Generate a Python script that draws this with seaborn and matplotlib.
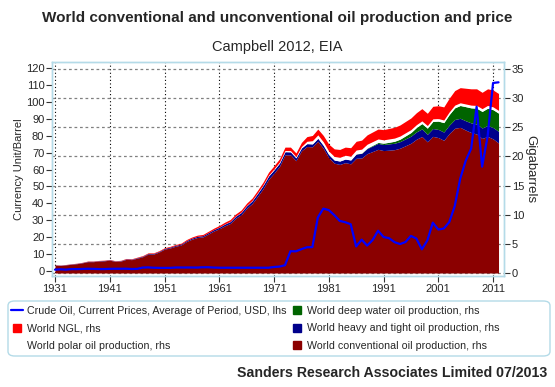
import pandas as pd
import matplotlib
matplotlib.use('Agg')
import matplotlib.pyplot as plt
import seaborn as sns
from matplotlib.lines import Line2D
from matplotlib.patches import FancyBboxPatch

# Years 1931-2012
years = list(range(1931, 2013))

# Crude oil price, USD/bbl (lhs)
price = [0.65, 0.87, 0.67, 1.00, 0.97, 1.09, 1.18, 1.13, 1.02, 1.02,
         1.14, 1.19, 1.20, 1.21, 1.05, 1.12, 1.90, 1.99, 1.80, 1.71,
         1.71, 1.71, 1.93, 1.93, 1.93, 1.93, 1.90, 2.08, 2.08, 1.90,
         1.80, 1.80, 1.80, 1.80, 1.80, 1.80, 1.80, 1.80, 1.80, 1.80,
         2.24, 2.48, 3.29, 11.58, 11.53, 12.80, 13.92, 14.02, 31.61, 36.83,
         35.93, 32.97, 29.55, 28.78, 27.56, 14.43, 18.44, 14.92, 18.23, 23.73,
         20.00, 19.32, 16.97, 15.82, 17.02, 20.67, 19.09, 12.72, 17.97, 28.50,
         24.44, 25.02, 28.83, 38.27, 54.52, 65.14, 72.39, 97.26, 61.67, 79.50,
         111.26, 111.67]

# Production, Gb/yr (rhs)
conventional = [1.35, 1.30, 1.40, 1.50, 1.60, 1.75, 1.95, 1.95, 2.05, 2.10,
                2.20, 2.00, 2.05, 2.35, 2.30, 2.55, 2.80, 3.25, 3.25, 3.60,
                4.10, 4.30, 4.60, 4.80, 5.40, 5.80, 6.10, 6.20, 6.70, 7.20,
                7.60, 8.10, 8.50, 9.40, 10.00, 11.10, 11.90, 13.15, 14.47, 16.07,
                17.13, 18.30, 20.27, 20.26, 19.26, 20.96, 21.70, 21.65, 22.60, 21.38,
                19.78, 18.84, 18.63, 18.93, 18.73, 19.69, 19.73, 20.48, 20.84, 21.22,
                21.00, 21.07, 21.16, 21.41, 21.83, 22.26, 22.95, 23.42, 22.51, 23.44,
                23.24, 22.76, 23.93, 24.84, 24.99, 24.52, 24.10, 23.84, 23.08, 23.43,
                23.01, 22.31]
heavy_tight = [0.04, 0.04, 0.04, 0.05, 0.05, 0.05, 0.06, 0.06, 0.06, 0.06,
               0.07, 0.06, 0.07, 0.08, 0.08, 0.09, 0.10, 0.11, 0.11, 0.12,
               0.13, 0.14, 0.15, 0.16, 0.17, 0.19, 0.20, 0.21, 0.23, 0.25,
               0.27, 0.30, 0.33, 0.36, 0.40, 0.44, 0.48, 0.52, 0.55, 0.58,
               0.58, 0.56, 0.55, 0.53, 0.50, 0.50, 0.50, 0.50, 0.52, 0.52,
               0.52, 0.54, 0.58, 0.62, 0.66, 0.72, 0.80, 0.88, 0.96, 1.02,
               1.05, 1.08, 1.10, 1.13, 1.18, 1.22, 1.26, 1.30, 1.28, 1.35,
               1.40, 1.42, 1.45, 1.50, 1.55, 1.60, 1.65, 1.72, 1.80, 1.88,
               1.95, 2.00]
deep_water = [0.0] * 55 + [0.03, 0.05, 0.08, 0.12, 0.16,
              0.22, 0.28, 0.34, 0.42, 0.52, 0.62, 0.76, 0.92, 1.06, 1.22,
              1.42, 1.62, 1.82, 2.00, 2.20, 2.42, 2.58, 2.72, 2.84, 2.96,
              3.06, 3.12]
polar = [0.0] * 30 + [0.02, 0.03, 0.04, 0.05, 0.06, 0.07, 0.08, 0.10, 0.12, 0.15,
         0.17, 0.19, 0.20, 0.21, 0.22, 0.24, 0.40, 0.55, 0.58, 0.60,
         0.60, 0.62, 0.64, 0.65, 0.66, 0.66, 0.67, 0.66, 0.63, 0.60,
         0.58, 0.57, 0.55, 0.54, 0.52, 0.50, 0.48, 0.46, 0.45, 0.44,
         0.44, 0.45, 0.45, 0.46, 0.46, 0.46, 0.47, 0.47, 0.48, 0.48,
         0.48, 0.47]
ngl = [0.03, 0.03, 0.03, 0.04, 0.04, 0.04, 0.05, 0.05, 0.05, 0.05,
       0.06, 0.05, 0.06, 0.07, 0.07, 0.08, 0.09, 0.10, 0.10, 0.11,
       0.12, 0.13, 0.14, 0.15, 0.17, 0.19, 0.20, 0.21, 0.23, 0.25,
       0.27, 0.29, 0.31, 0.33, 0.35, 0.38, 0.40, 0.43, 0.46, 0.50,
       0.52, 0.55, 0.58, 0.60, 0.62, 0.70, 0.80, 0.90, 1.00, 1.10,
       1.20, 1.30, 1.35, 1.40, 1.45, 1.50, 1.55, 1.60, 1.65, 1.70,
       1.75, 1.80, 1.85, 1.90, 1.95, 2.00, 2.05, 2.10, 2.10, 2.15,
       2.20, 2.25, 2.35, 2.50, 2.60, 2.70, 2.80, 2.85, 2.80, 2.85,
       2.90, 2.90]

labels = ['Crude Oil, Current Prices, Average of Period, USD, lhs',
          'World NGL, rhs',
          'World polar oil production, rhs',
          'World deep water oil production, rhs',
          'World heavy and tight oil production, rhs',
          'World conventional oil production, rhs']
colors = {'conv': '#8b0000', 'heavy': '#00008b', 'deep': '#006400',
          'polar': '#ffffff', 'ngl': '#ff0000', 'price': '#0000ff'}

df = pd.DataFrame({'year': years, 'price': price})

sns.set_theme(style='white')
plt.rcParams['font.family'] = ['Liberation Sans', 'DejaVu Sans']

fig = plt.figure(figsize=(5.55, 3.87), dpi=100)
ax = fig.add_axes([52/555, 1-276/387, 452/555, 214/387])
ax2 = ax.twinx()

# areas on the Gb axis (drawn underneath)
ax.stackplot(years, conventional, heavy_tight, deep_water, polar, ngl,
             colors=[colors['conv'], colors['heavy'], colors['deep'],
                     colors['polar'], colors['ngl']], lw=0)
ax.set_xlim(1930.45, 2013.0)
ax.set_ylim(-0.51, 36.2)
ax.set_xticks(list(range(1931, 2012, 10)))
ax.set_yticks(list(range(0, 36, 5)))
ax.set_axisbelow(True)
ax.xaxis.grid(True, linestyle=(0, (1, 2.2)), color='black', lw=0.8)
ax.yaxis.grid(True, linestyle=(0, (2.2, 2.2)), color='#808080', lw=0.9)
ax.yaxis.tick_right()
ax.yaxis.set_label_position('right')
ax.set_ylabel('Gigabarrels', rotation=-90, fontsize=9.5, labelpad=9)
ax.tick_params(axis='both', direction='out', length=4, width=0.8,
               color='#333333', labelsize=8, pad=1.5)
ax.tick_params(axis='x', bottom=True)
ax.tick_params(axis='y', right=True, left=False)
ax.set_xlabel('')

# price on the USD axis (on top)
sns.lineplot(data=df, x='year', y='price', ax=ax2, color=colors['price'], lw=1.6)
ax2.set_ylim(-3.1, 123.7)
ax2.set_yticks(list(range(0, 121, 10)))
ax2.yaxis.tick_left()
ax2.yaxis.set_label_position('left')
ax2.set_ylabel('Currency Unit/Barrel', fontsize=8, labelpad=1)
ax2.tick_params(axis='y', direction='out', length=4, width=0.8,
                color='#333333', labelsize=8, pad=1.5, left=True, right=False)
ax2.grid(False)

for a in (ax, ax2):
    for s in a.spines.values():
        s.set_color('#b4dbe8')
        s.set_linewidth(1.0)

# titles
fig.text(0.5, 1-18/387, 'World conventional and unconventional oil production and price',
         ha='center', va='center', fontsize=11, weight='bold')
fig.text(0.5, 1-47/387, 'Campbell 2012, EIA', ha='center', va='center', fontsize=10.5)
fig.text(547/555, 1-373/387, 'Sanders Research Associates Limited 07/2013',
         ha='right', va='center', fontsize=10.2, weight='bold')

# legend with rounded frame
box = FancyBboxPatch((8/555, 1-356/387), 542/555, 55/387,
                     boxstyle='round,pad=0,rounding_size=0.012',
                     transform=fig.transFigure, ec='#b4dbe8', fc='none', lw=1)
fig.patches.append(box)

def sq(c):
    return Line2D([0], [0], marker='s', ls='none', markersize=6,
                  markerfacecolor=c, markeredgecolor=c)

handles = [Line2D([0], [0], color=colors['price'], lw=1.6),
           sq(colors['ngl']), sq(colors['polar']),
           sq(colors['deep']), sq(colors['heavy']), sq(colors['conv'])]
fig.legend(handles, labels, loc='upper left', bbox_to_anchor=(11/555, 1-306/387),
           ncol=2, frameon=False, fontsize=7.7, handlelength=1.1,
           handletextpad=0.4, columnspacing=0.45, labelspacing=0.68,
           borderaxespad=0, borderpad=0)

fig.savefig('out.png', dpi=100)
